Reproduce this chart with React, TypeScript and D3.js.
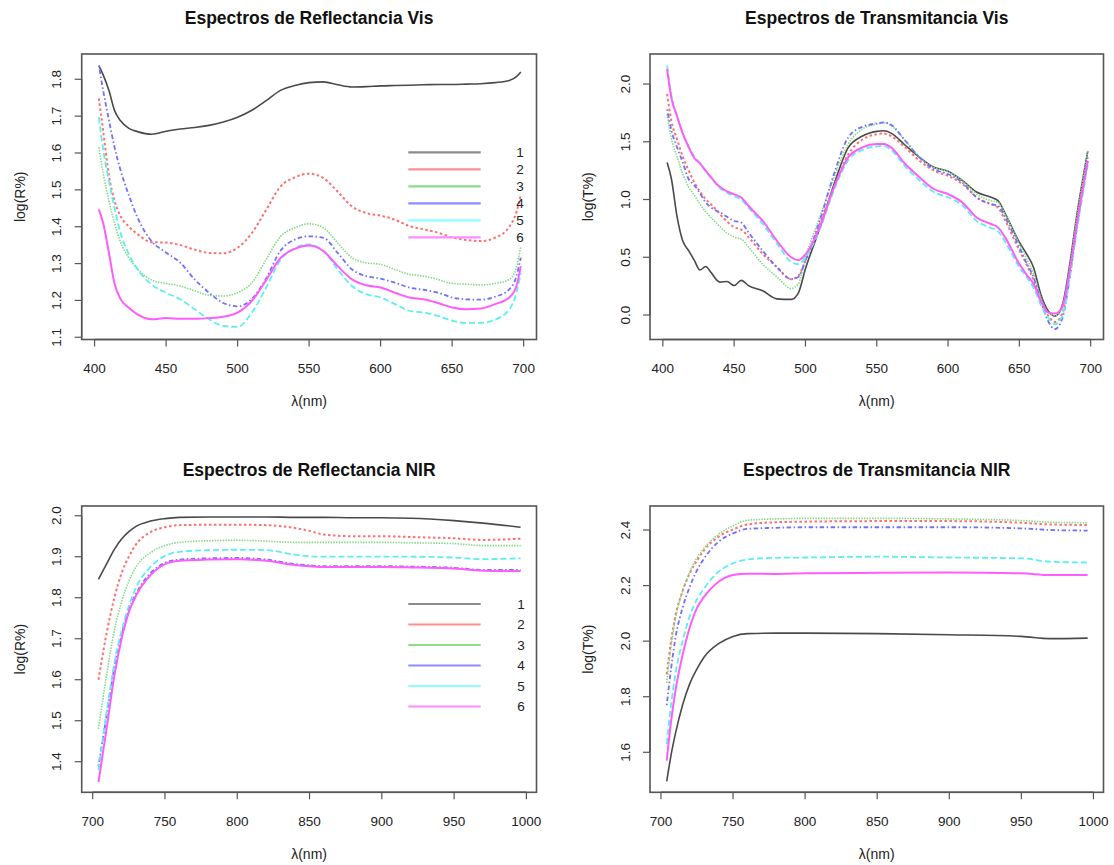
import React from "react";
import * as d3 from "d3";

// ---- wavelengths (nm) ----
const wlRefVis = [403, 406, 410, 414, 418, 424, 430, 440, 450, 460, 470, 480, 490, 500, 510, 520, 530, 540, 550, 560, 570, 580, 590, 600, 610, 620, 630, 640, 650, 660, 670, 680, 690, 695, 698];
const wlTransVis = [403, 406, 410, 414, 418, 422, 426, 430, 434, 438, 440, 445, 450, 455, 460, 470, 480, 490, 495, 500, 510, 520, 530, 540, 550, 555, 560, 570, 580, 590, 600, 610, 620, 630, 635, 640, 650, 655, 660, 665, 670, 675, 680, 685, 690, 698];
const wlRefNir = [704, 710, 715, 720, 725, 730, 740, 750, 760, 780, 800, 820, 840, 850, 860, 880, 900, 920, 950, 970, 996];
const wlTransNir = [704, 707, 710, 715, 720, 725, 730, 740, 750, 760, 780, 800, 850, 900, 950, 970, 996];

// ---- log(R%) visible, samples 1..6 ----
const refVis1 = [1.837, 1.812, 1.77, 1.715, 1.688, 1.667, 1.658, 1.651, 1.659, 1.665, 1.669, 1.675, 1.684, 1.697, 1.716, 1.742, 1.770, 1.783, 1.791, 1.793, 1.785, 1.779, 1.780, 1.782, 1.783, 1.784, 1.785, 1.786, 1.786, 1.787, 1.788, 1.791, 1.797, 1.807, 1.820];
const refVis2 = [1.748, 1.66, 1.54, 1.47, 1.43, 1.40, 1.38, 1.358, 1.357, 1.350, 1.338, 1.329, 1.328, 1.343, 1.383, 1.446, 1.509, 1.534, 1.544, 1.532, 1.495, 1.455, 1.437, 1.43, 1.419, 1.402, 1.393, 1.384, 1.371, 1.364, 1.361, 1.37, 1.40, 1.44, 1.486];
const refVis3 = [1.615, 1.545, 1.47, 1.41, 1.36, 1.315, 1.285, 1.255, 1.246, 1.239, 1.226, 1.214, 1.212, 1.221, 1.248, 1.311, 1.374, 1.397, 1.408, 1.397, 1.356, 1.316, 1.302, 1.298, 1.284, 1.271, 1.266, 1.257, 1.246, 1.244, 1.242, 1.246, 1.257, 1.29, 1.347];
const refVis4 = [1.837, 1.77, 1.69, 1.615, 1.555, 1.485, 1.425, 1.36, 1.33, 1.302, 1.257, 1.221, 1.193, 1.184, 1.204, 1.26, 1.335, 1.365, 1.374, 1.37, 1.329, 1.284, 1.266, 1.259, 1.248, 1.235, 1.229, 1.221, 1.208, 1.203, 1.202, 1.21, 1.23, 1.266, 1.316];
const refVis5 = [1.697, 1.61, 1.525, 1.45, 1.385, 1.325, 1.285, 1.243, 1.221, 1.203, 1.176, 1.149, 1.131, 1.128, 1.167, 1.235, 1.31, 1.342, 1.352, 1.334, 1.284, 1.239, 1.217, 1.208, 1.19, 1.172, 1.167, 1.158, 1.145, 1.139, 1.139, 1.148, 1.176, 1.221, 1.275];
const refVis6 = [1.447, 1.41, 1.33, 1.245, 1.205, 1.18, 1.162, 1.149, 1.152, 1.150, 1.150, 1.152, 1.156, 1.167, 1.199, 1.255, 1.315, 1.340, 1.349, 1.334, 1.293, 1.257, 1.241, 1.235, 1.221, 1.208, 1.203, 1.193, 1.181, 1.176, 1.178, 1.19, 1.208, 1.239, 1.293];

// ---- log(T%) visible ----
const transVis1 = [1.32, 1.18, 0.85, 0.64, 0.56, 0.475, 0.39, 0.42, 0.365, 0.30, 0.285, 0.29, 0.255, 0.30, 0.255, 0.21, 0.14, 0.135, 0.19, 0.40, 0.75, 1.13, 1.45, 1.55, 1.59, 1.595, 1.575, 1.47, 1.365, 1.28, 1.245, 1.165, 1.065, 1.02, 0.99, 0.88, 0.63, 0.53, 0.41, 0.18, 0.04, -0.01, 0.08, 0.41, 0.84, 1.42];
const transVis2 = [1.915, 1.68, 1.52, 1.37, 1.255, 1.15, 1.07, 1.005, 0.955, 0.905, 0.875, 0.81, 0.76, 0.74, 0.675, 0.53, 0.415, 0.31, 0.34, 0.47, 0.79, 1.105, 1.39, 1.52, 1.565, 1.572, 1.55, 1.45, 1.336, 1.25, 1.205, 1.135, 1.02, 0.96, 0.93, 0.82, 0.56, 0.44, 0.30, 0.12, 0.0, -0.06, 0.01, 0.33, 0.76, 1.34];
const transVis3 = [1.74, 1.53, 1.37, 1.22, 1.11, 1.04, 0.96, 0.895, 0.84, 0.79, 0.765, 0.71, 0.675, 0.658, 0.59, 0.44, 0.33, 0.23, 0.27, 0.50, 0.845, 1.19, 1.48, 1.61, 1.653, 1.665, 1.64, 1.51, 1.365, 1.278, 1.243, 1.163, 1.047, 0.99, 0.975, 0.874, 0.615, 0.49, 0.355, 0.153, 0.023, -0.006, 0.066, 0.384, 0.816, 1.42];
const transVis4 = [1.78, 1.60, 1.45, 1.32, 1.18, 1.125, 1.055, 0.975, 0.93, 0.90, 0.89, 0.85, 0.816, 0.80, 0.716, 0.557, 0.413, 0.312, 0.33, 0.47, 0.816, 1.22, 1.538, 1.63, 1.659, 1.668, 1.648, 1.509, 1.365, 1.264, 1.22, 1.148, 1.018, 0.961, 0.946, 0.845, 0.586, 0.45, 0.326, 0.124, -0.049, -0.121, -0.035, 0.297, 0.73, 1.365];
const transVis5 = [2.16, 1.90, 1.72, 1.57, 1.46, 1.375, 1.315, 1.245, 1.185, 1.125, 1.10, 1.06, 1.03, 1.0, 0.93, 0.79, 0.62, 0.46, 0.44, 0.50, 0.74, 1.08, 1.34, 1.43, 1.46, 1.465, 1.43, 1.285, 1.165, 1.065, 1.02, 0.95, 0.815, 0.755, 0.725, 0.635, 0.415, 0.33, 0.235, 0.09, -0.02, -0.08, -0.01, 0.30, 0.71, 1.30];
const transVis6 = [2.13, 1.88, 1.72, 1.57, 1.457, 1.36, 1.313, 1.25, 1.19, 1.13, 1.11, 1.07, 1.045, 1.018, 0.946, 0.816, 0.643, 0.5, 0.475, 0.525, 0.759, 1.105, 1.365, 1.451, 1.48, 1.48, 1.451, 1.307, 1.192, 1.091, 1.047, 0.975, 0.845, 0.788, 0.759, 0.672, 0.441, 0.35, 0.268, 0.124, 0.023, 0.014, 0.066, 0.355, 0.759, 1.336];

// ---- log(R%) NIR ----
const refNir1 = [1.845, 1.885, 1.918, 1.943, 1.961, 1.974, 1.987, 1.993, 1.996, 1.997, 1.997, 1.997, 1.996, 1.996, 1.996, 1.995, 1.995, 1.994, 1.988, 1.982, 1.972];
const refNir2 = [1.60, 1.72, 1.80, 1.86, 1.90, 1.93, 1.96, 1.972, 1.977, 1.978, 1.978, 1.977, 1.97, 1.963, 1.954, 1.95, 1.95, 1.948, 1.945, 1.941, 1.944];
const refNir3 = [1.48, 1.62, 1.72, 1.79, 1.84, 1.875, 1.91, 1.927, 1.935, 1.939, 1.94, 1.938, 1.935, 1.935, 1.935, 1.935, 1.935, 1.934, 1.932, 1.927, 1.927];
const refNir4 = [1.39, 1.52, 1.63, 1.71, 1.77, 1.81, 1.86, 1.885, 1.893, 1.896, 1.897, 1.893, 1.882, 1.879, 1.877, 1.877, 1.877, 1.876, 1.873, 1.868, 1.868];
const refNir5 = [1.38, 1.53, 1.64, 1.72, 1.78, 1.825, 1.875, 1.902, 1.912, 1.916, 1.917, 1.916, 1.905, 1.901, 1.9, 1.9, 1.9, 1.9, 1.898, 1.894, 1.896];
const refNir6 = [1.35, 1.49, 1.61, 1.70, 1.765, 1.805, 1.855, 1.882, 1.89, 1.893, 1.894, 1.89, 1.88, 1.877, 1.875, 1.875, 1.875, 1.874, 1.871, 1.866, 1.865];

// ---- log(T%) NIR ----
const transNir1 = [1.495, 1.59, 1.666, 1.77, 1.847, 1.90, 1.943, 1.991, 2.017, 2.027, 2.029, 2.029, 2.027, 2.023, 2.017, 2.009, 2.011];
const transNir2 = [1.88, 2.0, 2.09, 2.18, 2.245, 2.29, 2.328, 2.376, 2.402, 2.42, 2.428, 2.43, 2.432, 2.432, 2.426, 2.42, 2.418];
const transNir3 = [1.85, 1.98, 2.08, 2.18, 2.25, 2.30, 2.335, 2.385, 2.415, 2.435, 2.44, 2.442, 2.442, 2.44, 2.434, 2.428, 2.426];
const transNir4 = [1.77, 1.90, 2.01, 2.12, 2.196, 2.255, 2.298, 2.358, 2.388, 2.404, 2.408, 2.41, 2.41, 2.41, 2.406, 2.40, 2.398];
const transNir5 = [1.63, 1.77, 1.88, 2.0, 2.09, 2.15, 2.19, 2.25, 2.28, 2.294, 2.30, 2.301, 2.304, 2.301, 2.298, 2.286, 2.283];
const transNir6 = [1.57, 1.71, 1.82, 1.95, 2.05, 2.12, 2.16, 2.214, 2.238, 2.243, 2.242, 2.244, 2.246, 2.247, 2.244, 2.238, 2.238];

// ---- axes ----
const sampleLabels = ["1", "2", "3", "4", "5", "6"];
const visTicks = [400, 450, 500, 550, 600, 650, 700];
const nirTicks = [700, 750, 800, 850, 900, 950, 1000];
const refVisYTicks = [1.1, 1.2, 1.3, 1.4, 1.5, 1.6, 1.7, 1.8];
const transVisYTicks = [0.0, 0.5, 1.0, 1.5, 2.0];
const refNirYTicks = [1.4, 1.5, 1.6, 1.7, 1.8, 1.9, 2.0];
const transNirYTicks = [1.6, 1.8, 2.0, 2.2, 2.4];

// ---- styles per sample ----
const curveColors = ["#4a4a4a", "#ff6f6f", "#86d986", "#7070ff", "#5cefef", "#ff5cff"];
const legendColors = ["#8a8a8a", "#ff8e8e", "#8ddc8d", "#8c8cff", "#8cffff", "#ff8cff"];
const curveDash = [null, "2.5,2.5", "1.5,1.2", "1.5,2.5,4.5,2.5", "6,3", null];
const curveWidth = [1.6, 2, 1.6, 1.8, 1.8, 2];

const FONT = "'Liberation Sans', Arial, Helvetica, sans-serif";

type Box = { x0: number; x1: number; y0: number; y1: number };
type LegendSpec = { x0: number; x1: number; xText: number; y0: number; dy: number };

interface PanelProps {
  title: string;
  ylab: string;
  wl: number[];
  series: number[][];
  xDomain: [number, number];
  yDomain: [number, number];
  xTicks: number[];
  yTicks: number[];
  box: Box;
  legend?: LegendSpec;
}

function Panel({ title, ylab, wl, series, xDomain, yDomain, xTicks, yTicks, box, legend }: PanelProps) {
  const x = d3.scaleLinear().domain(xDomain).range([box.x0, box.x1]);
  const y = d3.scaleLinear().domain(yDomain).range([box.y1, box.y0]);
  const fmtY = d3.format(".1f");
  const line = d3
    .line<[number, number]>()
    .x((d) => x(d[0]))
    .y((d) => y(d[1]))
    .curve(d3.curveMonotoneX);
  const cx = (box.x0 + box.x1) / 2;
  const cy = (box.y0 + box.y1) / 2;
  const axisColor = "#555";
  const textColor = "#222";

  return (
    <g>
      <text x={cx} y={box.y0 - 36} dy="0.35em" textAnchor="middle" fontFamily={FONT} fontWeight="bold" fontSize={17.5} fill="#111">
        {title}
      </text>

      {series.map((vals, i) => (
        <path
          key={i}
          d={line(wl.map((w, k) => [w, vals[k]] as [number, number])) || ""}
          fill="none"
          stroke={curveColors[i]}
          strokeWidth={curveWidth[i]}
          strokeDasharray={curveDash[i] || undefined}
          strokeLinejoin="round"
        />
      ))}

      <rect x={box.x0} y={box.y0} width={box.x1 - box.x0} height={box.y1 - box.y0} fill="none" stroke={axisColor} strokeWidth={1.6} />

      {/* x axis */}
      <line x1={x(xTicks[0])} x2={x(xTicks[xTicks.length - 1])} y1={box.y1} y2={box.y1} stroke={axisColor} strokeWidth={1.4} />
      {xTicks.map((t) => (
        <g key={"x" + t}>
          <line x1={x(t)} x2={x(t)} y1={box.y1} y2={box.y1 + 7} stroke={axisColor} strokeWidth={1.2} />
          <text x={x(t)} y={box.y1 + 29} dy="0.35em" textAnchor="middle" fontFamily={FONT} fontSize={13.5} fill={textColor}>
            {t}
          </text>
        </g>
      ))}
      <text x={cx} y={box.y1 + 62} dy="0.35em" textAnchor="middle" fontFamily={FONT} fontSize={14} fill={textColor}>
        λ(nm)
      </text>

      {/* y axis */}
      <line x1={box.x0} x2={box.x0} y1={y(yTicks[0])} y2={y(yTicks[yTicks.length - 1])} stroke={axisColor} strokeWidth={1.4} />
      {yTicks.map((t) => (
        <g key={"y" + t}>
          <line x1={box.x0 - 7} x2={box.x0} y1={y(t)} y2={y(t)} stroke={axisColor} strokeWidth={1.2} />
          <text
            transform={`translate(${box.x0 - 25},${y(t)}) rotate(-90)`}
            dy="0.35em"
            textAnchor="middle"
            fontFamily={FONT}
            fontSize={13.5}
            fill={textColor}
          >
            {fmtY(t)}
          </text>
        </g>
      ))}
      <text transform={`translate(${box.x0 - 62},${cy}) rotate(-90)`} dy="0.35em" textAnchor="middle" fontFamily={FONT} fontSize={14} fill={textColor}>
        {ylab}
      </text>

      {legend &&
        sampleLabels.map((lab, i) => {
          const ly = legend.y0 + i * legend.dy;
          return (
            <g key={"lg" + lab}>
              <line x1={legend.x0} x2={legend.x1} y1={ly} y2={ly} stroke={legendColors[i]} strokeWidth={2.2} />
              <text x={legend.xText} y={ly} dy="0.35em" textAnchor="middle" fontFamily={FONT} fontSize={13.5} fill={textColor}>
                {lab}
              </text>
            </g>
          );
        })}
    </g>
  );
}

export default function App() {
  const left = { x0: 81.7, x1: 536.5 };
  const right = { x0: 650, x1: 1103.5 };
  const top = { y0: 54, y1: 339.5 };
  const bottom = { y0: 506, y1: 792.3 };

  return (
    <svg width={1114} height={865} style={{ position: "absolute", left: 0, top: 0, background: "#fff" }}>
      <rect x={0} y={0} width={1114} height={865} fill="#fff" />
      <Panel
        title="Espectros de Reflectancia Vis"
        ylab="log(R%)"
        wl={wlRefVis}
        series={[refVis1, refVis2, refVis3, refVis4, refVis5, refVis6]}
        xDomain={[391, 709]}
        yDomain={[1.094, 1.8686]}
        xTicks={visTicks}
        yTicks={refVisYTicks}
        box={{ ...left, ...top }}
        legend={{ x0: 408.3, x1: 480.7, xText: 520, y0: 152.3, dy: 17 }}
      />
      <Panel
        title="Espectros de Transmitancia Vis"
        ylab="log(T%)"
        wl={wlTransVis}
        series={[transVis1, transVis2, transVis3, transVis4, transVis5, transVis6]}
        xDomain={[391, 709]}
        yDomain={[-0.212, 2.26]}
        xTicks={visTicks}
        yTicks={transVisYTicks}
        box={{ ...right, ...top }}
      />
      <Panel
        title="Espectros de Reflectancia NIR"
        ylab="log(R%)"
        wl={wlRefNir}
        series={[refNir1, refNir2, refNir3, refNir4, refNir5, refNir6]}
        xDomain={[692.4, 1007]}
        yDomain={[1.3254, 2.0237]}
        xTicks={nirTicks}
        yTicks={refNirYTicks}
        box={{ ...left, ...bottom }}
        legend={{ x0: 408.3, x1: 480.7, xText: 521, y0: 604, dy: 20.5 }}
      />
      <Panel
        title="Espectros de Transmitancia NIR"
        ylab="log(T%)"
        wl={wlTransNir}
        series={[transNir1, transNir2, transNir3, transNir4, transNir5, transNir6]}
        xDomain={[692.4, 1007]}
        yDomain={[1.456, 2.4864]}
        xTicks={nirTicks}
        yTicks={transNirYTicks}
        box={{ ...right, ...bottom }}
      />
    </svg>
  );
}
